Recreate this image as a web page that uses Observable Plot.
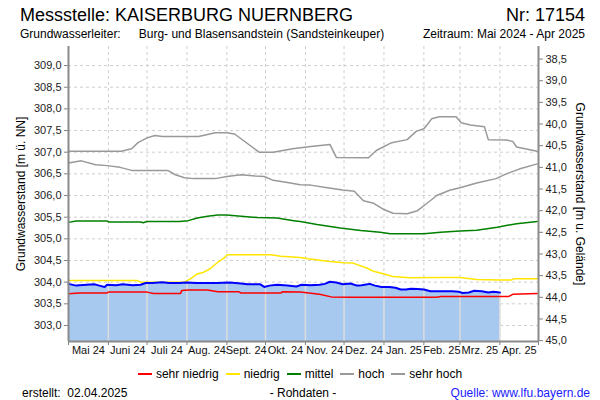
<!DOCTYPE html>
<html>
<head>
<meta charset="utf-8">
<script src="https://cdn.jsdelivr.net/npm/d3@7"></script>
<script src="https://cdn.jsdelivr.net/npm/@observablehq/plot@0.6"></script>
<style>
  html, body { margin: 0; padding: 0; background: #fff; }
  #wrap { position: relative; width: 600px; height: 400px; font-family: 'Liberation Sans', Arial, sans-serif; color: #000; overflow: hidden; }
  .abs { position: absolute; white-space: pre; line-height: 1; }
  #chart { position: absolute; left: 0; top: 0; }
  .legend { position: absolute; left: 0; width: 600px; top: 367px; display: flex; justify-content: center; align-items: center; font-size: 12px; }
  .legend .item { display: flex; align-items: center; margin: 0 3.5px; }
  .legend .sw { width: 14px; height: 2px; margin-right: 4px; }
</style>
</head>
<body>
<div id="wrap">
  <div id="chart"></div>
  <div class="abs" style="left:20px; top:6px; font-size:18px;">Messstelle: KAISERBURG NUERNBERG</div>
  <div class="abs" style="right:15px; top:6px; font-size:18px;">Nr: 17154</div>
  <div class="abs" style="left:20px; top:28px; font-size:12px;">Grundwasserleiter:<span style="display:inline-block; width:18px;"></span>Burg- und Blasensandstein (Sandsteinkeuper)</div>
  <div class="abs" style="right:15px; top:28px; font-size:12px;">Zeitraum: Mai 2024 - Apr 2025</div>
  <div class="abs" style="left:21px; top:194px; font-size:12px; transform: translate(-50%,-50%) rotate(-90deg);">Grundwasserstand [m ü. NN]</div>
  <div class="abs" style="left:580px; top:194px; font-size:12px; transform: translate(-50%,-50%) rotate(90deg);">Grundwasserstand [m u. Gelände]</div>
  <div class="legend" id="legend"></div>
  <div class="abs" style="left:22px; top:387px; font-size:12px;">erstellt:  02.04.2025</div>
  <div class="abs" style="left:303px; top:387px; font-size:12px; transform: translateX(-50%);">- Rohdaten -</div>
  <div class="abs" style="right:10px; top:387px; font-size:12px; color:#1a1aff;">Quelle: www.lfu.bayern.de</div>
</div>
<script>
// ---- data ----
const monthLabels = ["Mai 24","Juni 24","Juli 24","Aug. 24","Sept. 24","Okt. 24","Nov. 24","Dez. 24","Jan. 25","Feb. 25","Mrz. 25","Apr. 25"];
const monthStarts = ["2024-05-01","2024-06-01","2024-07-01","2024-08-01","2024-09-01","2024-10-01","2024-11-01","2024-12-01","2025-01-01","2025-02-01","2025-03-01","2025-04-01","2025-05-01"];
const leftTicks = [303.0,303.5,304.0,304.5,305.0,305.5,306.0,306.5,307.0,307.5,308.0,308.5,309.0];
const depthTicks = [38.5,39.0,39.5,40.0,40.5,41.0,41.5,42.0,42.5,43.0,43.5,44.0,44.5,45.0];
const groundLevel = 347.65; // m ü. NN (level + depth)

const sehrHoch = [
  ["2024-05-01",307.02],["2024-06-11",307.02],["2024-06-19",307.08],["2024-06-24",307.22],["2024-07-01",307.33],
  ["2024-07-07",307.385],["2024-07-13",307.36],["2024-08-10",307.36],["2024-08-23",307.45],["2024-09-01",307.45],
  ["2024-09-07",307.42],["2024-09-26",307.0],["2024-10-07",307.0],["2024-10-22",307.08],["2024-11-05",307.13],
  ["2024-11-20",307.18],["2024-11-25",306.88],["2024-12-20",306.87],["2024-12-26",307.04],["2025-01-07",307.22],
  ["2025-01-19",307.29],["2025-01-26",307.48],["2025-02-01",307.54],["2025-02-04",307.65],["2025-02-07",307.77],
  ["2025-02-13",307.82],["2025-02-26",307.82],["2025-03-02",307.68],["2025-03-09",307.63],["2025-03-20",307.59],
  ["2025-03-23",307.29],["2025-04-06",307.28],["2025-04-11",307.25],["2025-04-14",307.12],["2025-04-30",307.02]
];
const hoch = [
  ["2024-05-01",306.75],["2024-05-11",306.80],["2024-05-22",306.71],["2024-05-31",306.69],["2024-06-10",306.65],
  ["2024-06-19",306.58],["2024-07-17",306.58],["2024-07-23",306.48],["2024-07-30",306.41],["2024-08-06",306.39],
  ["2024-08-23",306.39],["2024-09-01",306.44],["2024-09-12",306.48],["2024-09-23",306.45],["2024-09-30",306.44],
  ["2024-10-07",306.35],["2024-10-18",306.30],["2024-10-28",306.25],["2024-11-05",306.24],["2024-11-18",306.18],
  ["2024-11-30",306.13],["2024-12-09",306.10],["2024-12-16",305.88],["2024-12-24",305.82],["2024-12-31",305.69],
  ["2025-01-08",305.59],["2025-01-19",305.58],["2025-01-27",305.65],["2025-02-03",305.81],["2025-02-11",306.0],
  ["2025-02-21",306.12],["2025-03-01",306.18],["2025-03-14",306.29],["2025-03-29",306.39],["2025-04-06",306.50],
  ["2025-04-16",306.61],["2025-04-30",306.73]
];
const mittel = [
  ["2024-05-01",305.38],["2024-05-07",305.41],["2024-05-31",305.41],["2024-06-01",305.39],["2024-06-26",305.39],
  ["2024-06-28",305.37],["2024-07-01",305.40],["2024-07-26",305.40],["2024-08-02",305.42],["2024-08-09",305.48],
  ["2024-08-17",305.52],["2024-08-25",305.55],["2024-09-01",305.55],["2024-09-12",305.52],["2024-09-25",305.49],
  ["2024-10-10",305.48],["2024-10-23",305.42],["2024-10-28",305.40],["2024-11-10",305.33],["2024-11-28",305.25],
  ["2024-12-14",305.19],["2024-12-29",305.15],["2025-01-06",305.12],["2025-02-01",305.12],["2025-02-14",305.15],
  ["2025-03-01",305.18],["2025-03-14",305.20],["2025-03-30",305.27],["2025-04-14",305.35],["2025-04-30",305.40]
];
const niedrig = [
  ["2024-05-01",304.04],["2024-06-23",304.04],["2024-06-26",304.0],["2024-07-30",304.0],["2024-08-04",304.08],
  ["2024-08-09",304.19],["2024-08-14",304.23],["2024-08-19",304.31],["2024-08-25",304.46],["2024-08-30",304.56],
  ["2024-09-01",304.63],["2024-10-05",304.63],["2024-10-13",304.60],["2024-10-28",304.57],["2024-11-03",304.54],
  ["2024-11-18",304.48],["2024-12-01",304.45],["2024-12-08",304.44],["2024-12-19",304.32],["2024-12-24",304.25],
  ["2025-01-01",304.19],["2025-01-08",304.13],["2025-01-21",304.10],["2025-02-11",304.11],["2025-03-01",304.11],
  ["2025-03-14",304.06],["2025-04-01",304.05],["2025-04-10",304.05],["2025-04-12",304.08],["2025-04-30",304.08]
];
const sehrNiedrig = [
  ["2024-05-01",303.73],["2024-05-09",303.75],["2024-05-31",303.75],["2024-06-01",303.77],["2024-07-01",303.77],
  ["2024-07-06",303.74],["2024-07-27",303.74],["2024-07-28",303.81],["2024-08-02",303.82],["2024-08-17",303.82],
  ["2024-08-25",303.78],["2024-09-10",303.78],["2024-09-12",303.75],["2024-10-13",303.75],["2024-10-14",303.78],
  ["2024-10-28",303.77],["2024-11-12",303.72],["2024-11-21",303.66],["2024-12-06",303.65],["2025-01-08",303.65],
  ["2025-02-11",303.65],["2025-02-14",303.67],["2025-04-08",303.67],["2025-04-11",303.72],["2025-04-30",303.74]
];
const messwerte = [
  ["2024-05-01",303.96],["2024-05-07",303.92],["2024-05-15",303.94],["2024-05-21",303.95],["2024-05-25",303.92],
  ["2024-05-29",303.89],["2024-05-31",303.94],["2024-06-07",303.93],["2024-06-12",303.95],["2024-06-20",303.93],
  ["2024-06-26",303.94],["2024-06-30",303.98],["2024-07-05",303.98],["2024-07-13",304.00],["2024-07-18",303.98],
  ["2024-07-26",303.98],["2024-08-01",303.99],["2024-08-08",303.98],["2024-08-16",303.98],["2024-08-24",303.98],
  ["2024-09-03",303.99],["2024-09-12",303.97],["2024-09-17",303.95],["2024-09-27",303.95],["2024-09-30",303.89],
  ["2024-10-04",303.92],["2024-10-10",303.94],["2024-10-18",303.92],["2024-10-25",303.90],["2024-10-29",303.94],
  ["2024-11-05",303.93],["2024-11-12",303.94],["2024-11-16",303.96],["2024-11-20",304.01],["2024-11-25",303.99],
  ["2024-11-30",303.95],["2024-12-06",303.97],["2024-12-11",303.92],["2024-12-13",303.92],["2024-12-17",303.94],
  ["2024-12-21",303.96],["2024-12-25",303.92],["2024-12-30",303.89],["2025-01-05",303.89],["2025-01-10",303.87],
  ["2025-01-14",303.83],["2025-01-18",303.83],["2025-01-22",303.85],["2025-01-27",303.84],["2025-02-01",303.83],
  ["2025-02-06",303.79],["2025-02-11",303.79],["2025-02-16",303.79],["2025-02-23",303.79],["2025-02-28",303.78],
  ["2025-03-03",303.75],["2025-03-08",303.76],["2025-03-12",303.80],["2025-03-18",303.79],["2025-03-23",303.76],
  ["2025-03-27",303.78],["2025-04-01",303.76]
];

// ---- helpers ----
const yMin = 302.63, yMax = 309.44;
const parse = s => new Date(s + "T00:00:00Z");
const toRows = arr => arr.map(([d, v]) => ({date: parse(d), value: v}));
const fmt = v => v.toFixed(1).replace(".", ",");
const starts = monthStarts.map(parse);
const mids = monthLabels.map((_, i) => new Date((+starts[i] + +starts[i + 1]) / 2));
const blue = toRows(messwerte);
const blueAt = t => {
  const i = d3.bisector(d => d.date).left(blue, t);
  if (i <= 0) return blue[0].value;
  if (i >= blue.length) return blue[blue.length - 1].value;
  const a = blue[i - 1], b = blue[i];
  const f = (t - a.date) / (b.date - a.date);
  return a.value + f * (b.value - a.value);
};
const innerStarts = starts.filter(t => t > blue[0].date && t <= blue[blue.length - 1].date);

const series = [
  {name: "sehr niedrig", data: sehrNiedrig, color: "#ff0000"},
  {name: "niedrig", data: niedrig, color: "#ffe600"},
  {name: "mittel", data: mittel, color: "#008000"},
  {name: "hoch", data: hoch, color: "#999999"},
  {name: "sehr hoch", data: sehrHoch, color: "#999999"}
];

const chart = Plot.plot({
  width: 600, height: 400,
  marginLeft: 68, marginRight: 62, marginTop: 46, marginBottom: 59,
  style: {fontFamily: "'Liberation Sans', Arial, sans-serif", fontSize: "11px", color: "#000", background: "transparent"},
  x: {type: "utc", domain: [starts[0], starts[starts.length - 1]]},
  y: {domain: [yMin, yMax]},
  marks: [
    Plot.ruleY(leftTicks, {stroke: "#cfcfcf", strokeDasharray: "3,3"}),
    Plot.ruleX(starts, {stroke: "#cfcfcf", strokeDasharray: "3,3"}),
    Plot.areaY(blue, {x: "date", y1: yMin, y2: "value", fill: "#a7c8ef"}),
    Plot.ruleX(innerStarts, {x: d => d, y1: yMin, y2: d => blueAt(d), stroke: "#dcdcdc", strokeWidth: 1.5}),
    ...series.slice().reverse().map(s => Plot.line(toRows(s.data), {x: "date", y: "value", stroke: s.color, strokeWidth: 1.5})),
    Plot.line(blue, {x: "date", y: "value", stroke: "#0000ff", strokeWidth: 2}),
    Plot.axisY({anchor: "left", ticks: leftTicks, tickSize: 4, tickPadding: 3, tickFormat: fmt, label: null, stroke: "#808080", fill: "#222"}),
    Plot.axisY({anchor: "right", ticks: depthTicks.map(d => groundLevel - d), tickSize: 4, tickPadding: 3, tickFormat: v => fmt(groundLevel - v), label: null, stroke: "#808080", fill: "#222"}),
    Plot.axisX({ticks: starts, tickSize: 4, tickFormat: () => "", label: null, stroke: "#808080"}),
    Plot.text(monthLabels, {x: (d, i) => mids[i], text: d => d, frameAnchor: "bottom", dy: 12, fill: "#111", fontSize: 11}),
    Plot.ruleX([starts[0], starts[starts.length - 1]], {stroke: "#8a8a8a", strokeWidth: 2}),
    Plot.ruleY([yMin], {stroke: "#8a8a8a", strokeWidth: 2})
  ]
});
document.getElementById("chart").appendChild(chart);

const legend = document.getElementById("legend");
for (const s of series) {
  const item = document.createElement("div");
  item.className = "item";
  const sw = document.createElement("div");
  sw.className = "sw";
  sw.style.backgroundColor = s.color;
  const label = document.createElement("span");
  label.textContent = s.name;
  item.appendChild(sw);
  item.appendChild(label);
  legend.appendChild(item);
}
</script>
</body>
</html>
